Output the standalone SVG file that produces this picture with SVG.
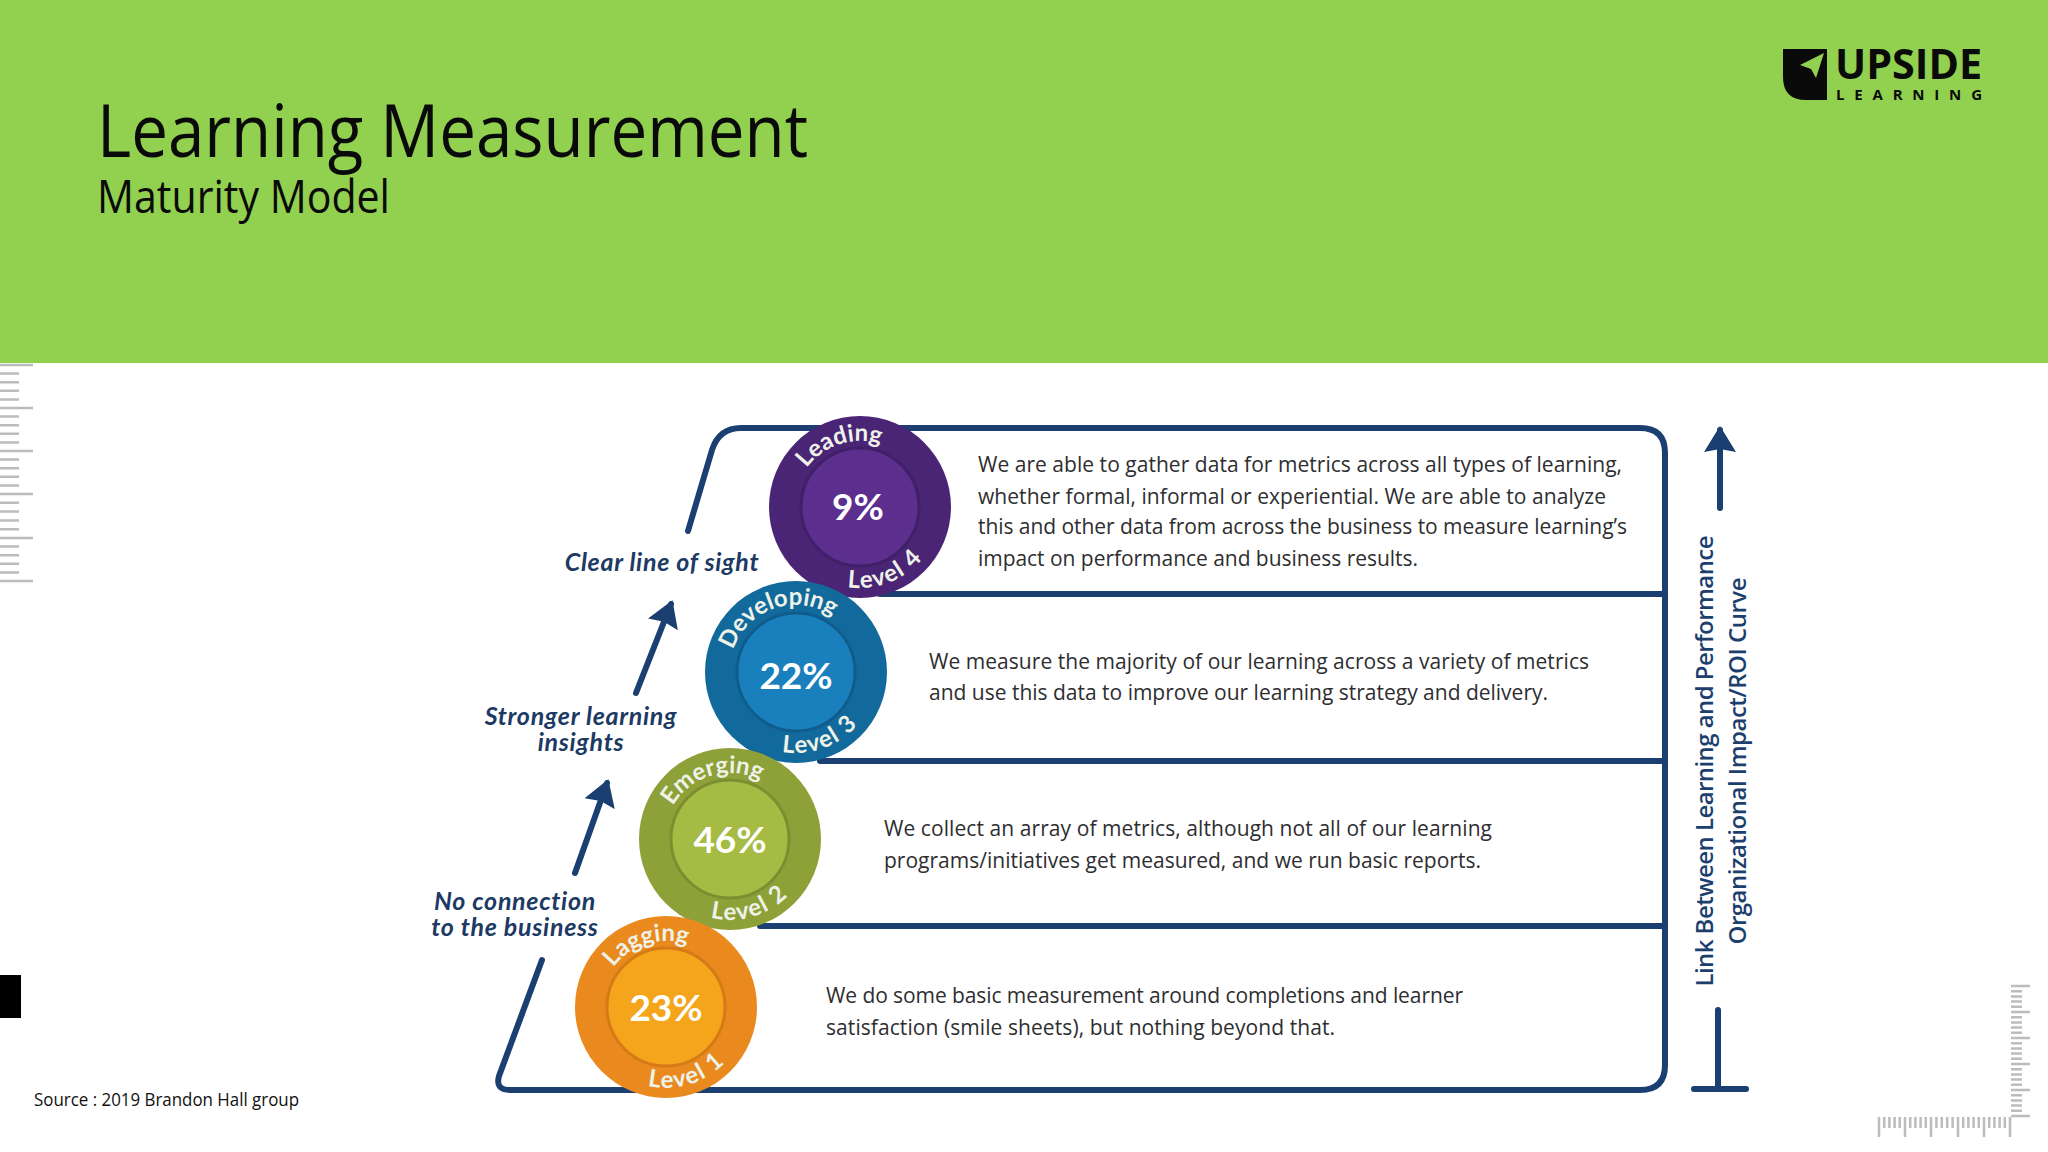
<svg xmlns="http://www.w3.org/2000/svg" width="2048" height="1152" viewBox="0 0 2048 1152">
<style>
.ttl{font-family:"Open Sans","Liberation Sans",sans-serif;fill:#0a0a0a}
.body{font-family:"Open Sans","Liberation Sans",sans-serif;font-size:21px;fill:#2e2e30}
.lab{font-family:"Lato","Open Sans",sans-serif;font-size:25px;font-weight:700;font-style:italic;fill:#1c3a63;text-anchor:middle;letter-spacing:.7px}
.pct{font-family:"Lato","Open Sans",sans-serif;font-size:37px;font-weight:700;fill:#fff;text-anchor:middle}
.arc{font-family:"Lato","Open Sans",sans-serif;font-size:24px;font-weight:700;fill:#eef2e8}
.low{letter-spacing:1.4px}
.axis{font-family:"Open Sans","Liberation Sans",sans-serif;font-size:24px;font-weight:600;fill:#1c3f6e;text-anchor:middle}
.ln{fill:none;stroke:#1a3f70;stroke-width:6;stroke-linecap:round;stroke-linejoin:round}
.tick{fill:none;stroke:#bcbcbc;stroke-width:2.5}
</style>
<defs>
<marker id="head" markerUnits="userSpaceOnUse" markerWidth="32" markerHeight="34" refX="22" refY="17" orient="auto"><path d="M0 1L26 17L0 33L3 17Z" fill="#1a3f70"/></marker>
<path id="t4" d="M806.6 468.2A66 66 0 0 1 922 484.400"/>
<path id="t3" d="M733 650A66 66 0 0 1 858 649.400"/>
<path id="t2" d="M672.8 806A66 66 0 0 1 792 816.400"/>
<path id="t1" d="M613.3 967.3A66 66 0 0 1 728 984.400"/>
<path id="b4" d="M847.3 587A81 81 0 0 0 940.700 514"/>
<path id="b3" d="M781.9 751.8A81 81 0 0 0 876.700 679"/>
<path id="b2" d="M710.4 917.6A81 81 0 0 0 810.700 846"/>
<path id="b1" d="M647.8 1085.9A81 81 0 0 0 746.700 1014"/>
</defs>
<rect width="2048" height="1152" fill="#fff"/>
<rect id="header" width="2048" height="363" fill="#92d050"/>
<g id="title">
<text class="ttl" x="97" y="157" font-size="74" textLength="711" lengthAdjust="spacingAndGlyphs">Learning Measurement</text>
<text class="ttl" x="97" y="213" font-size="45" textLength="293" lengthAdjust="spacingAndGlyphs">Maturity Model</text>
</g>
<g id="logo">
<path d="M1783 49H1827V100H1806Q1783 100 1783 77Z" fill="#0a0a0a"/>
<path d="M1824 53L1800 65L1811 69L1816 78Z" fill="#92d050"/>
<text x="1835" y="79" font-family="'Open Sans',sans-serif" font-size="41" font-weight="700" fill="#0a0a0a" textLength="147" lengthAdjust="spacingAndGlyphs">UPSIDE</text>
<text x="1836" y="100" font-family="'Open Sans',sans-serif" font-size="15" font-weight="700" fill="#0a0a0a" textLength="146">LEARNING</text>
</g>
<g id="connectors">
<path class="ln" d="M688 531L712 450Q719 428 741 428H1640Q1665 428 1665 453V1065Q1665 1090 1640 1090H510Q495 1090 499 1076L542 960"/>
<path class="ln" d="M880 594H1665M820 761H1665M760 926H1665"/>
<path class="ln" d="M575 873L607 783" marker-end="url(#head)"/>
<path class="ln" d="M636 693L671 604" marker-end="url(#head)"/>
<path class="ln" d="M1720 508V430" marker-end="url(#head)"/>
<path class="ln" d="M1718 1010V1089M1694 1089H1746"/>
</g>
<g id="level4">
<circle cx="860" cy="507" r="91" fill="#4a2475"/><circle cx="860" cy="507" r="59" fill="#5c2e8e" stroke="#41206a" stroke-width="3"/>
<text class="pct" x="858" y="520">9%</text>
<text class="arc"><textPath href="#t4">Leading</textPath></text>
<text class="arc low"><textPath href="#b4">Level 4</textPath></text>
</g>
<g id="level3">
<circle cx="796" cy="672" r="91" fill="#126a9c"/><circle cx="796" cy="672" r="59" fill="#1a80bd" stroke="#105c8c" stroke-width="3"/>
<text class="pct" x="796" y="689">22%</text>
<text class="arc"><textPath href="#t3">Developing</textPath></text>
<text class="arc low"><textPath href="#b3">Level 3</textPath></text>
</g>
<g id="level2">
<circle cx="730" cy="839" r="91" fill="#8ea038"/><circle cx="730" cy="839" r="59" fill="#a6bb43" stroke="#7c8f30" stroke-width="3"/>
<text class="pct" x="730" y="853">46%</text>
<text class="arc"><textPath href="#t2">Emerging</textPath></text>
<text class="arc low"><textPath href="#b2">Level 2</textPath></text>
</g>
<g id="level1">
<circle cx="666" cy="1007" r="91" fill="#ea8a1e"/><circle cx="666" cy="1007" r="59" fill="#f5a51c" stroke="#d47a16" stroke-width="3"/>
<text class="pct" x="666" y="1021">23%</text>
<text class="arc"><textPath href="#t1">Lagging</textPath></text>
<text class="arc low"><textPath href="#b1">Level 1</textPath></text>
</g>
<g id="desc4">
<text class="body" x="978" y="472" textLength="644">We are able to gather data for metrics across all types of learning,</text>
<text class="body" x="978" y="504" textLength="628">whether formal, informal or experiential. We are able to analyze</text>
<text class="body" x="978" y="534" textLength="649">this and other data from across the business to measure learning’s</text>
<text class="body" x="978" y="566" textLength="440">impact on performance and business results.</text>
</g>
<g id="desc3">
<text class="body" x="929" y="669" textLength="660">We measure the majority of our learning across a variety of metrics</text>
<text class="body" x="929" y="700" textLength="619">and use this data to improve our learning strategy and delivery.</text>
</g>
<g id="desc2">
<text class="body" x="884" y="836" textLength="608">We collect an array of metrics, although not all of our learning</text>
<text class="body" x="884" y="868" textLength="597">programs/initiatives get measured, and we run basic reports.</text>
</g>
<g id="desc1">
<text class="body" x="826" y="1003" textLength="637">We do some basic measurement around completions and learner</text>
<text class="body" x="826" y="1035" textLength="509">satisfaction (smile sheets), but nothing beyond that.</text>
</g>
<g id="labels">
<text class="lab" x="662" y="571">Clear line of sight</text>
<text class="lab" x="581" y="725">Stronger learning</text>
<text class="lab" x="581" y="751">insights</text>
<text class="lab" x="515" y="910">No connection</text>
<text class="lab" x="515" y="936">to the business</text>
</g>
<g id="axis">
<text class="axis" transform="translate(1713 761) rotate(-90)" textLength="451">Link Between Learning and Performance</text>
<text class="axis" transform="translate(1746 761) rotate(-90)" textLength="367">Organizational Impact/ROI Curve</text>
</g>
<g id="source"><text x="34" y="1106" font-family="'Open Sans',sans-serif" font-size="18" fill="#111" textLength="265" lengthAdjust="spacingAndGlyphs">Source : 2019 Brandon Hall group</text></g>
<rect id="marker" x="0" y="975" width="21" height="43" fill="#000"/>
<g id="rulers">
<path class="tick" d="M0 365H33M0 373.600H19M0 382.200H19M0 390.800H19M0 399.400H19M0 408H33M0 416.600H19M0 425.200H19M0 433.800H19M0 442.400H19M0 451H33M0 459.600H19M0 468.200H19M0 476.800H19M0 485.400H19M0 494H33M0 502.800H19M0 511.600H19M0 520.400H19M0 529.200H19M0 538H33M0 546.600H19M0 555.200H19M0 563.800H19M0 572.400H19M0 581H33"/>
<path class="tick" d="M2011 986H2030M2011 991.200H2022M2011 996.400H2022M2011 1001.600H2022M2011 1006.800H2022M2011 1012H2030M2011 1017.200H2022M2011 1022.400H2022M2011 1027.600H2022M2011 1032.800H2022M2011 1038H2030M2011 1043.200H2022M2011 1048.400H2022M2011 1053.600H2022M2011 1058.800H2022M2011 1064H2030M2011 1069.200H2022M2011 1074.400H2022M2011 1079.600H2022M2011 1084.800H2022M2011 1090H2030M2011 1095.200H2022M2011 1100.400H2022M2011 1105.600H2022M2011 1110.800H2022M2011 1116H2030"/>
<path class="tick" d="M1879 1117V1137M1884.200 1117V1128M1889.400 1117V1128M1894.600 1117V1128M1899.800 1117V1128M1905 1117V1137M1910.200 1117V1128M1915.400 1117V1128M1920.600 1117V1128M1925.800 1117V1128M1931 1117V1137M1936.400 1117V1128M1941.800 1117V1128M1947.200 1117V1128M1952.600 1117V1128M1958 1117V1137M1963.200 1117V1128M1968.400 1117V1128M1973.600 1117V1128M1978.800 1117V1128M1984 1117V1137M1989.200 1117V1128M1994.400 1117V1128M1999.600 1117V1128M2004.800 1117V1128M2010 1117V1137"/>
</g>
</svg>
